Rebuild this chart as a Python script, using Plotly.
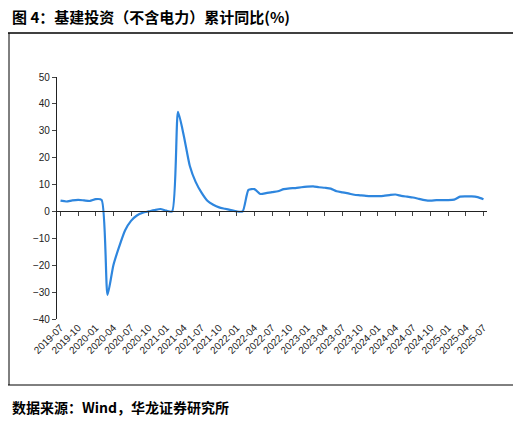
import plotly.graph_objects as go

months = []
y, m = 2019, 7
for _ in range(73):
    months.append(f"{y}-{m:02d}")
    m += 1
    if m > 12:
        m = 1; y += 1

values = [4.0,3.7,4.1,4.3,4.1,3.9,4.6,4.3,-31,-20,-13,-7,-3.5,-1.5,-0.5,0,0.5,0.9,0.3,0,
          37,28,17,11,7,4,2.5,1.5,1,0.5,0,0,8,8.3,6.5,6.8,7.2,7.5,8.3,8.6,8.7,9,9.2,9.3,9,
          8.8,8.5,7.5,7.1,6.7,6.2,6,5.8,5.7,5.7,5.8,6.1,6.3,5.8,5.5,5.2,4.7,4.2,4.0,4.2,
          4.2,4.2,4.4,5.5,5.6,5.6,5.3,4.5]

tick_idx = list(range(0, 73, 3))
tick_text = [months[i] for i in tick_idx]
xs = list(range(len(values)))

W, H = 521, 424
L, R, T, B = 49, 42, 69, 113
PW, PH = W - L - R, H - T - B
def px(x): return (x - L - 8) / PW
def py(y): return 1 - (y - T - 8) / PH

fig = go.Figure()
fig.add_trace(go.Scatter(x=xs, y=values, mode="lines",
                         line=dict(color="#2E86DE", width=2.2, shape="spline", smoothing=0.6),
                         showlegend=False))
fig.add_trace(go.Scatter(x=[0], y=[0], xaxis="x2", mode="markers",
                         marker=dict(opacity=0), showlegend=False, hoverinfo="skip"))

fig.update_layout(
    width=W, height=H, paper_bgcolor="white", plot_bgcolor="white",
    margin=dict(l=L, r=R, t=T, b=B),
    font=dict(family="Liberation Sans, Arial", size=10, color="#222"),
    xaxis=dict(range=[-0.6, 72.6], tickvals=tick_idx, ticktext=tick_text, tickangle=-45,
               showline=False, showgrid=False, zeroline=False, ticks="", automargin=False),
    xaxis2=dict(range=[-0.6, 72.6], overlaying="x", anchor="free", position=40/90,
                tickvals=tick_idx, showticklabels=False, ticks="outside", ticklen=4,
                showline=True, linecolor="#222", linewidth=1, showgrid=False, zeroline=False,
                automargin=False),
    yaxis=dict(range=[-40, 50], dtick=10, showgrid=False, zeroline=False, automargin=False,
               showline=True, linecolor="#222", linewidth=1.2, ticks="outside", ticklen=4),
    annotations=[
        dict(text="<b>图 4：基建投资（不含电力）累计同比(%)</b>", x=px(10), y=py(17),
             xref="paper", yref="paper", xanchor="left", yanchor="middle", showarrow=False,
             font=dict(family="Noto Sans CJK SC", size=15, color="#000")),
        dict(text="<b>数据来源：Wind，华龙证券研究所</b>", x=px(10), y=py(407),
             xref="paper", yref="paper", xanchor="left", yanchor="middle", showarrow=False,
             font=dict(family="Noto Sans CJK SC", size=14, color="#000")),
    ],
    shapes=[
        dict(type="line", xref="paper", yref="paper", x0=px(8), x1=px(W), y0=py(33), y1=py(33),
             line=dict(color="#000", width=1.5)),
        dict(type="line", xref="paper", yref="paper", x0=px(9), x1=px(9), y0=py(33), y1=py(385),
             line=dict(color="#000", width=1)),
        dict(type="line", xref="paper", yref="paper", x0=px(8), x1=px(W), y0=py(385), y1=py(385),
             line=dict(color="#000", width=1)),
    ],
)
fig.write_html("out.html")
